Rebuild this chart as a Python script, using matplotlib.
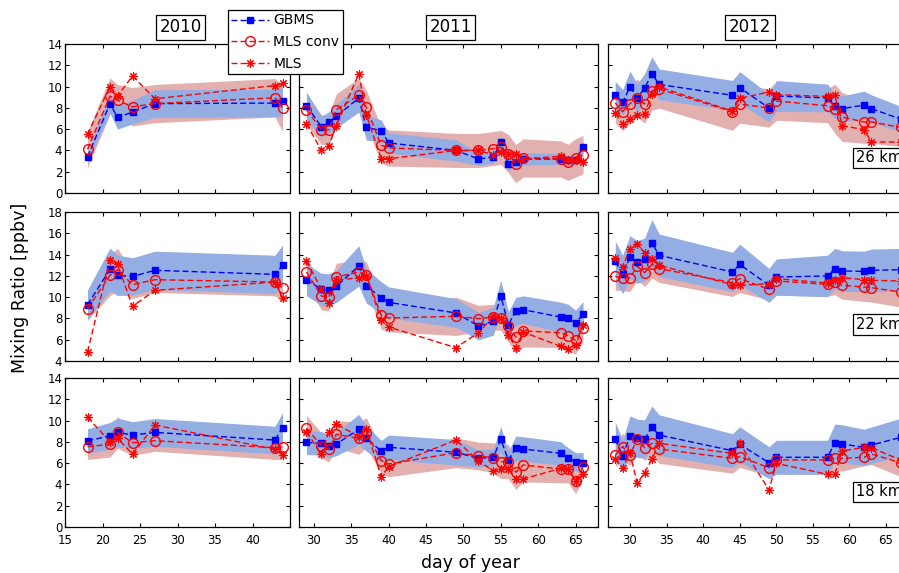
import matplotlib
matplotlib.use("Agg")
import matplotlib.pyplot as plt

# campaign days (day of year)
days_2010 = [18, 21, 22, 24, 27, 43, 44]
days_2011 = [29, 31, 32, 33, 36, 37, 39, 40, 49, 52, 54, 55, 56, 57, 58, 63, 64, 65, 66]
days_2012 = [28, 29, 30, 31, 32, 33, 34, 44, 45, 49, 50, 57, 58, 59, 62, 63, 67]

# ---- 26 km ----
gbms26_10 = [3.4, 8.4, 7.1, 7.6, 8.4, 8.45, 8.6]
conv26_10 = [4.1, 9.1, 8.7, 8.1, 8.4, 8.95, 8.0]
mls26_10 = [5.5, 10.0, 9.1, 11.0, 8.85, 10.1, 10.3]
gerr26_10 = [0.4, 0.9, 1.1, 1.1, 1.3, 1.3, 1.35]
cerr26_10 = [1.7, 1.7, 1.5, 1.8, 1.8, 1.8, 2.2]

gbms26_11 = [8.2, 6.23, 6.64, 7.2, 8.93, 6.17, 5.86, 4.7, 4.0, 3.2, 3.38, 4.76, 2.72, 2.91, 3.2, 3.2, 3.07, 3.07, 4.32]
conv26_11 = [7.83, 5.95, 5.95, 7.83, 9.18, 8.05, 4.48, 4.23, 4.0, 4.0, 4.17, 4.29, 3.7, 2.76, 3.29, 3.2, 2.88, 3.29, 3.6]
mls26_11 = [6.5, 4.0, 4.45, 6.33, 11.2, 7.36, 3.22, 3.22, 4.0, 4.0, 3.6, 3.82, 3.7, 3.66, 3.2, 3.45, 3.13, 3.13, 2.88]
gerr26_11 = [1.3, 1.0, 1.0, 1.1, 1.3, 1.2, 1.0, 0.95, 1.0, 0.6, 0.6, 0.6, 0.6, 0.6, 0.6, 0.5, 0.5, 0.5, 0.6]
cerr26_11 = [1.4, 1.4, 1.4, 1.5, 1.6, 1.6, 1.7, 1.7, 1.6, 1.6, 1.6, 1.6, 1.8, 1.8, 1.8, 1.7, 1.7, 1.8, 1.8]

gbms26_12 = [9.18, 8.52, 9.96, 8.96, 9.83, 11.2, 10.2, 9.18, 9.9, 7.99, 9.11, 8.93, 8.14, 7.92, 8.27, 7.92, 6.95]
conv26_12 = [8.46, 7.64, 8.39, 8.9, 8.36, 9.58, 9.77, 7.64, 8.36, 7.99, 8.64, 8.2, 7.92, 7.14, 6.67, 6.67, 6.17]
mls26_12 = [7.49, 6.48, 6.95, 7.3, 7.42, 9.33, 9.96, 7.7, 8.9, 9.49, 9.24, 9.08, 9.24, 6.33, 5.95, 4.79, 4.79]
gerr26_12 = [1.3, 1.2, 1.5, 1.3, 1.4, 1.6, 1.45, 1.4, 1.5, 1.3, 1.45, 1.3, 1.1, 1.2, 1.3, 1.3, 1.2]
cerr26_12 = [1.9, 1.8, 1.8, 1.8, 1.8, 1.8, 1.8, 1.75, 1.8, 1.8, 1.8, 1.6, 2.3, 2.3, 2.0, 2.0, 1.8]

# ---- 22 km ----
gbms22_10 = [9.29, 12.61, 12.05, 11.95, 12.52, 12.14, 12.99]
conv22_10 = [8.92, 12.05, 12.58, 11.17, 11.64, 11.42, 10.89]
mls22_10 = [4.85, 13.52, 13.08, 9.14, 10.64, 11.42, 9.92]
gerr22_10 = [1.4, 2.0, 1.9, 1.75, 1.8, 1.8, 1.9]
cerr22_10 = [1.1, 1.9, 2.0, 1.3, 1.2, 1.3, 1.3]

gbms22_11 = [11.64, 10.73, 10.7, 11.02, 12.93, 11.05, 9.95, 9.51, 8.51, 7.29, 7.73, 10.1, 7.41, 8.67, 8.82, 8.13, 8.04, 7.57, 8.38]
conv22_11 = [12.36, 10.1, 10.01, 11.89, 12.36, 12.05, 8.29, 8.04, 8.2, 7.98, 8.13, 8.07, 7.29, 6.25, 6.82, 6.66, 6.35, 5.94, 7.13]
mls22_11 = [13.4, 10.73, 9.48, 11.58, 11.83, 11.99, 7.88, 7.19, 5.25, 6.66, 8.2, 8.07, 6.47, 5.25, 6.72, 5.38, 5.16, 5.47, 7.35]
gerr22_11 = [1.5, 1.5, 1.5, 1.5, 1.9, 1.6, 1.5, 1.45, 1.35, 1.3, 1.3, 1.5, 1.2, 1.3, 1.3, 1.4, 1.3, 1.2, 1.2]
cerr22_11 = [1.3, 1.3, 1.3, 1.3, 1.1, 1.3, 1.3, 1.3, 1.8, 1.25, 1.2, 1.2, 1.5, 1.5, 1.5, 1.4, 1.4, 1.3, 1.3]

gbms22_12 = [13.36, 12.14, 13.77, 13.3, 13.55, 15.09, 13.93, 12.36, 13.08, 11.11, 11.89, 11.99, 12.68, 12.46, 12.42, 12.52, 12.58]
conv22_12 = [11.95, 11.8, 11.83, 12.89, 12.3, 13.08, 12.68, 11.36, 11.74, 10.73, 11.52, 11.2, 11.42, 11.11, 10.95, 10.89, 10.48]
mls22_12 = [13.68, 12.83, 14.55, 14.96, 14.18, 13.55, 12.99, 11.17, 11.11, 11.27, 11.74, 11.33, 11.64, 11.83, 11.64, 11.58, 11.52]
gerr22_12 = [1.9, 1.8, 2.0, 2.0, 2.0, 2.2, 2.0, 1.85, 1.9, 1.6, 1.7, 1.95, 1.9, 1.9, 1.9, 2.0, 2.0]
cerr22_12 = [1.3, 1.2, 1.3, 1.3, 1.3, 1.3, 1.3, 1.3, 1.3, 1.0, 1.35, 1.1, 1.2, 1.3, 1.35, 1.35, 1.4]

# ---- 18 km ----
gbms18_10 = [8.08, 8.58, 8.89, 8.64, 8.89, 8.17, 9.33]
conv18_10 = [7.55, 7.77, 8.89, 7.92, 8.11, 7.45, 7.55]
mls18_10 = [10.3, 8.02, 8.33, 6.86, 9.58, 7.3, 6.76]
gerr18_10 = [1.15, 1.25, 1.35, 1.25, 1.3, 1.3, 1.4]
cerr18_10 = [1.2, 1.2, 1.5, 1.2, 1.0, 1.1, 1.2]

gbms18_11 = [7.95, 7.86, 7.61, 7.8, 9.18, 8.33, 7.14, 7.49, 7.02, 6.45, 6.55, 8.24, 6.3, 7.39, 7.33, 6.92, 6.45, 6.14, 6.04]
conv18_11 = [9.27, 7.64, 7.3, 8.71, 8.33, 8.86, 6.23, 5.92, 6.98, 6.67, 6.51, 6.14, 6.14, 5.14, 5.83, 5.45, 5.45, 4.32, 5.67]
mls18_11 = [8.96, 6.83, 8.96, 9.68, 8.49, 9.21, 4.73, 5.67, 8.17, 6.23, 5.26, 5.45, 5.45, 4.51, 4.51, 5.51, 5.45, 4.35, 4.95]
gerr18_11 = [1.15, 1.1, 1.1, 1.1, 1.4, 1.2, 1.0, 1.15, 1.2, 0.8, 0.8, 1.2, 0.8, 1.15, 1.15, 1.1, 1.0, 0.85, 0.95]
cerr18_11 = [1.2, 1.2, 1.2, 1.3, 1.5, 1.4, 1.2, 1.2, 1.4, 1.3, 1.4, 1.6, 1.6, 1.6, 1.6, 1.3, 1.3, 1.2, 1.2]

gbms18_12 = [8.24, 6.67, 8.55, 8.33, 8.27, 9.36, 8.64, 7.17, 7.77, 6.04, 6.55, 6.55, 7.92, 7.8, 7.49, 7.7, 8.42]
conv18_12 = [6.76, 7.55, 6.76, 8.24, 7.45, 7.86, 7.33, 6.45, 6.61, 5.57, 6.3, 6.3, 6.51, 6.45, 6.55, 6.86, 6.04]
mls18_12 = [6.36, 5.51, 6.92, 4.1, 5.1, 6.39, 7.86, 6.92, 7.86, 3.48, 5.98, 4.95, 4.95, 7.14, 7.49, 7.45, 6.3]
gerr18_12 = [1.6, 1.5, 1.9, 1.8, 1.8, 2.0, 1.9, 1.6, 1.65, 1.5, 1.6, 1.6, 1.75, 1.8, 1.7, 1.7, 1.8]
cerr18_12 = [1.1, 1.3, 1.0, 1.3, 1.2, 1.2, 1.35, 1.4, 1.0, 0.8, 1.25, 1.4, 1.2, 1.2, 0.8, 1.0, 1.3]

years = ["2010", "2011", "2012"]
altitudes = ["26 km", "22 km", "18 km"]
days = [days_2010, days_2011, days_2012]
rows = [
    [(gbms26_10, conv26_10, mls26_10, gerr26_10, cerr26_10),
     (gbms26_11, conv26_11, mls26_11, gerr26_11, cerr26_11),
     (gbms26_12, conv26_12, mls26_12, gerr26_12, cerr26_12)],
    [(gbms22_10, conv22_10, mls22_10, gerr22_10, cerr22_10),
     (gbms22_11, conv22_11, mls22_11, gerr22_11, cerr22_11),
     (gbms22_12, conv22_12, mls22_12, gerr22_12, cerr22_12)],
    [(gbms18_10, conv18_10, mls18_10, gerr18_10, cerr18_10),
     (gbms18_11, conv18_11, mls18_11, gerr18_11, cerr18_11),
     (gbms18_12, conv18_12, mls18_12, gerr18_12, cerr18_12)],
]
ylims = [(0, 14), (4, 18), (0, 14)]
xlims = [(15, 45), (28, 68), (27, 68)]
xticks = [range(15, 45, 5), range(30, 66, 5), range(30, 66, 5)]

W, H = 899, 573
fig = plt.figure(figsize=(W / 100, H / 100), dpi=100)

# panel boxes in pixels: (left, width) per column, top per row
cols_px = [(65, 225), (299, 299), (608, 300)]
tops_px = [44, 212, 378]
ph = 149

blue_band = (0.58, 0.68, 0.89)
red_band = (0.89, 0.69, 0.69)
dash = (4.3, 2.2)
asterisk = (8, 2, 0)

handles = None
for r in range(3):
    for c in range(3):
        l, w = cols_px[c]
        ax = fig.add_axes([l / W, 1 - (tops_px[r] + ph) / H, w / W, ph / H])
        g, cv, m, ge, ce = rows[r][c]
        d = days[c]
        ax.fill_between(d, [a - b for a, b in zip(cv, ce)], [a + b for a, b in zip(cv, ce)],
                        color=red_band, lw=0, zorder=1)
        ax.fill_between(d, [a - b for a, b in zip(g, ge)], [a + b for a, b in zip(g, ge)],
                        color=blue_band, lw=0, zorder=2)
        h1, = ax.plot(d, g, color="blue", lw=1, dashes=dash, marker="s", ms=4.5, zorder=3)
        h2, = ax.plot(d, cv, color="red", lw=1, dashes=dash, marker="o", ms=7,
                      mfc="none", mew=1, zorder=4)
        h3, = ax.plot(d, m, color="red", lw=1, dashes=dash, marker=asterisk, ms=6,
                      mew=0.8, zorder=5)
        if handles is None:
            handles = [h1, h2, h3]
        ax.set_xlim(*xlims[c])
        ax.set_ylim(*ylims[r])
        ax.set_xticks(list(xticks[c]))
        ax.set_yticks(range(ylims[r][0], ylims[r][1] + 1, 2))
        ax.tick_params(direction="in", top=True, right=True, length=3, width=0.8,
                       labelsize=8.5)
        ax.tick_params(axis="y", pad=2)
        ax.tick_params(axis="x", pad=5)
        if c > 0:
            ax.set_yticklabels([])
        if r < 2:
            ax.set_xticklabels([])
        for s in ax.spines.values():
            s.set_linewidth(0.9)

box = dict(boxstyle="square,pad=0.2", facecolor="white", edgecolor="black", lw=0.9)
for yr, xc in zip(years, [180.5, 450.5, 750]):
    fig.text(xc / W, 1 - 27.5 / H, yr, ha="center", va="center", fontsize=12, bbox=box)

for alt, yc in zip(altitudes, [158, 324.7, 492]):
    fig.text(856 / W, 1 - yc / H, alt, ha="left", va="center", fontsize=10.5, bbox=box)

fig.text(20 / W, 1 - 287.5 / H, "Mixing Ratio [ppbv]", rotation=90, ha="center",
         va="center", fontsize=12.5)
fig.text(470 / W, 1 - 562.7 / H, "day of year", ha="center", va="center", fontsize=12.5)

leg = fig.legend(handles, ["GBMS", "MLS conv", "MLS"], loc="upper left",
                 bbox_to_anchor=(228 / W, 1 - 10 / H), fontsize=10, frameon=True,
                 fancybox=False, framealpha=1, edgecolor="black", borderpad=0.25,
                 labelspacing=0.55, handlelength=2.7, handletextpad=0.3, borderaxespad=0)
leg.get_frame().set_linewidth(0.9)
leg.set_zorder(10)

fig.savefig("out.png", dpi=100)
